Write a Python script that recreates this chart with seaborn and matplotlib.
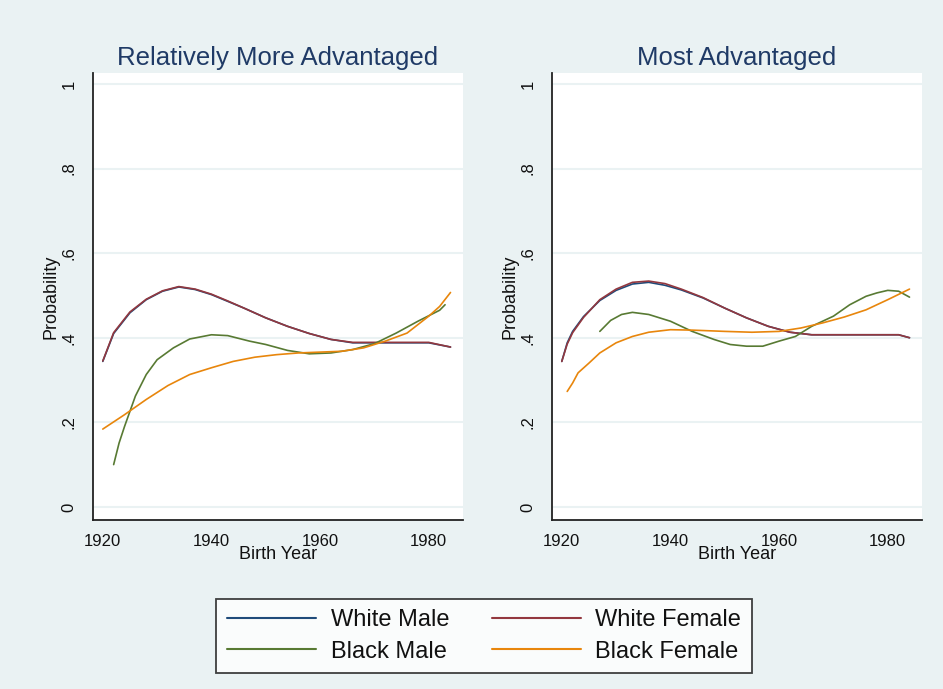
import numpy as np
import pandas as pd
import matplotlib
matplotlib.use("Agg")
import matplotlib.pyplot as plt
import seaborn as sns
from matplotlib.lines import Line2D

groups = ["White Male", "White Female", "Black Male", "Black Female"]
colors = ["#1f4b7a", "#93383f", "#587a33", "#e8860c"]
panel_titles = ["Relatively More Advantaged", "Most Advantaged"]

# ---- Panel 1: Relatively More Advantaged ----
p1_white_years = [1920, 1922, 1925, 1928, 1931, 1934, 1937, 1940, 1943, 1946, 1950,
                  1954, 1958, 1962, 1966, 1970, 1975, 1980, 1984]
p1_wm = [0.344, 0.41, 0.459, 0.49, 0.51, 0.52, 0.514, 0.502, 0.486, 0.47, 0.447,
         0.427, 0.41, 0.396, 0.388, 0.388, 0.388, 0.388, 0.378]
p1_wf = [0.345, 0.412, 0.461, 0.491, 0.511, 0.521, 0.515, 0.503, 0.487, 0.47, 0.447,
         0.427, 0.41, 0.396, 0.389, 0.389, 0.389, 0.389, 0.378]
p1_bm_years = [1922, 1923, 1924, 1926, 1928, 1930, 1933, 1936, 1940, 1943, 1947,
               1950, 1954, 1958, 1962, 1966, 1970, 1974, 1978, 1982, 1983]
p1_bm = [0.10, 0.151, 0.19, 0.262, 0.313, 0.348, 0.376, 0.397, 0.407, 0.405, 0.392,
         0.384, 0.37, 0.362, 0.364, 0.372, 0.386, 0.411, 0.439, 0.465, 0.478]
p1_bf_years = [1920, 1924, 1928, 1932, 1936, 1940, 1944, 1948, 1952, 1956, 1960,
               1964, 1968, 1972, 1976, 1980, 1982, 1984]
p1_bf = [0.184, 0.218, 0.254, 0.287, 0.313, 0.329, 0.344, 0.354, 0.36, 0.364, 0.366,
         0.368, 0.376, 0.392, 0.411, 0.451, 0.474, 0.507]

# ---- Panel 2: Most Advantaged ----
p2_white_years = [1920, 1921, 1922, 1924, 1927, 1930, 1933, 1936, 1939, 1942, 1946,
                  1950, 1954, 1958, 1962, 1966, 1972, 1978, 1982, 1984]
p2_wm = [0.344, 0.388, 0.415, 0.45, 0.488, 0.512, 0.527, 0.531, 0.524, 0.513, 0.494,
         0.47, 0.447, 0.427, 0.413, 0.407, 0.407, 0.407, 0.407, 0.40]
p2_wf = [0.344, 0.385, 0.412, 0.448, 0.49, 0.515, 0.531, 0.534, 0.528, 0.515, 0.495,
         0.47, 0.447, 0.427, 0.413, 0.407, 0.407, 0.407, 0.407, 0.40]
p2_bm_years = [1927, 1929, 1931, 1933, 1936, 1940, 1944, 1948, 1951, 1954, 1957,
               1960, 1963, 1966, 1970, 1973, 1976, 1978, 1980, 1982, 1984]
p2_bm = [0.415, 0.441, 0.455, 0.46, 0.455, 0.439, 0.415, 0.396, 0.384, 0.38, 0.38,
         0.392, 0.403, 0.427, 0.451, 0.478, 0.498, 0.506, 0.512, 0.51, 0.496]
p2_bf_years = [1921, 1922, 1923, 1925, 1927, 1930, 1933, 1936, 1940, 1944, 1950,
               1955, 1960, 1964, 1968, 1972, 1976, 1980, 1984]
p2_bf = [0.273, 0.293, 0.317, 0.34, 0.364, 0.388, 0.403, 0.413, 0.419, 0.418, 0.415,
         0.413, 0.415, 0.423, 0.435, 0.449, 0.466, 0.49, 0.515]

y_ticks = [0, 0.2, 0.4, 0.6, 0.8, 1.0]
y_ticklabels = ["0", ".2", ".4", ".6", ".8", "1"]
x_ticks = [1920, 1940, 1960, 1980]


def build(panel_series):
    rows = []
    for g, (yrs, vals) in zip(groups, panel_series):
        for yr, v in zip(yrs, vals):
            rows.append({"year": yr, "prob": v, "group": g})
    return pd.DataFrame(rows)


df1 = build([(p1_white_years, p1_wm), (p1_white_years, p1_wf),
             (p1_bm_years, p1_bm), (p1_bf_years, p1_bf)])
df2 = build([(p2_white_years, p2_wm), (p2_white_years, p2_wf),
             (p2_bm_years, p2_bm), (p2_bf_years, p2_bf)])

sns.set_style("white")
plt.rcParams["font.family"] = ["Liberation Sans", "DejaVu Sans"]

bg = "#eaf2f3"
W, H = 943, 689
fig = plt.figure(figsize=(W / 100, H / 100), dpi=100, facecolor=bg)

palette = dict(zip(groups, colors))
axes_px = [(93, 73, 463, 520), (552, 73, 922, 520)]

for (l, t, r, b), df, title in zip(axes_px, [df1, df2], panel_titles):
    ax = fig.add_axes([l / W, 1 - b / H, (r - l) / W, (b - t) / H])
    ax.set_facecolor("white")
    sns.lineplot(data=df, x="year", y="prob", hue="group", hue_order=groups,
                 palette=palette, ax=ax, legend=False, linewidth=1.2,
                 estimator=None, sort=True)
    ax.set_xlim(1918.2, 1986.3)
    ax.set_ylim(-0.031, 1.026)
    ax.set_yticks(y_ticks)
    ax.set_yticklabels(y_ticklabels, rotation=90, va="center")
    ax.set_xticks(x_ticks)
    for yv in y_ticks:
        ax.axhline(yv, color=bg, linewidth=1.5, zorder=0)
    for s in ["top", "right"]:
        ax.spines[s].set_visible(False)
    for s in ["left", "bottom"]:
        ax.spines[s].set_color("#222222")
        ax.spines[s].set_linewidth(1.3)
    ax.tick_params(axis="both", direction="out", length=5, width=1.2,
                   color="#222222", labelsize=12, labelcolor="#111111")
    ax.tick_params(axis="y", pad=7)
    ax.tick_params(axis="x", pad=5)
    ax.set_xlabel("Birth Year", fontsize=13, labelpad=-2, color="#111111")
    ax.set_ylabel("Probability", fontsize=13, labelpad=1, color="#111111")
    ax.set_title(title, fontsize=18.5, color="#1f3a66", pad=6)

handles = [Line2D([0], [0], color=c, linewidth=1.5) for c in colors]
order = [0, 2, 1, 3]
leg = fig.legend([handles[i] for i in order], [groups[i] for i in order],
                 ncol=2, loc="center", bbox_to_anchor=(484 / W, 1 - 636 / H),
                 frameon=True, fancybox=False, fontsize=17, handlelength=3.8,
                 columnspacing=1.8, handletextpad=0.6, labelspacing=0.4,
                 borderpad=0.45)
leg.get_frame().set_edgecolor("#111111")
leg.get_frame().set_linewidth(1.3)
leg.get_frame().set_facecolor("white")
for txt in leg.get_texts():
    txt.set_color("#111111")

fig.savefig("out.png", dpi=100, facecolor=bg)
